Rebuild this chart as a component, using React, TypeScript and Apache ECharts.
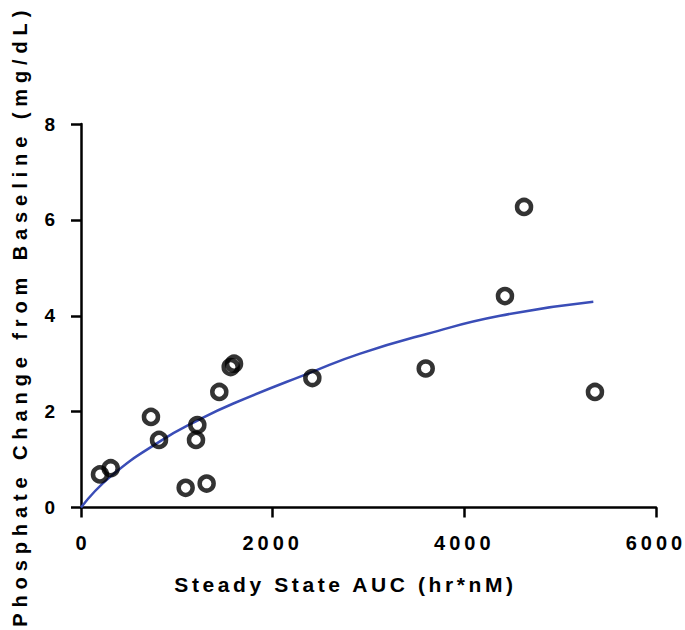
import React, { useEffect, useRef } from "react";
import * as echarts from "echarts";

// Observed data points (Steady State AUC, Phosphate change)
const aucValues = [198, 310, 730, 814, 1092, 1311, 1214, 1200, 1443, 1562, 1597, 2414, 3597, 4424, 4623, 5363];
const phosValues = [0.69, 0.82, 1.89, 1.41, 0.41, 0.5, 1.72, 1.41, 2.41, 2.93, 3.0, 2.7, 2.9, 4.41, 6.27, 2.41];

// Fitted curve
const fitX = [0, 310, 824, 1240, 1590, 2414, 2913, 3607, 4373, 5346];
const fitY = [0, 0.65, 1.38, 1.84, 2.17, 2.83, 3.21, 3.62, 4.0, 4.29];

const xTicks = [0, 2000, 4000, 6000];
const yTicks = [0, 2, 4, 6, 8];

const X_NAME = "Steady State AUC (hr*nM)";
const Y_NAME = "Phosphate Change from Baseline (mg/dL)";

const FONT = "'Liberation Sans', Arial, Helvetica, sans-serif";

function applySpacing(root: HTMLElement) {
  root.querySelectorAll("text").forEach((t) => {
    const s = t.textContent || "";
    if (s === Y_NAME) t.setAttribute("letter-spacing", "5.9");
    else if (s === X_NAME) t.setAttribute("letter-spacing", "3.6");
    else if (s.length > 1) t.setAttribute("letter-spacing", "4");
  });
}

export default function App() {
  const ref = useRef<HTMLDivElement>(null);
  useEffect(() => {
    if (!ref.current) return;
    const chart = echarts.init(ref.current, undefined, { renderer: "svg" });
    const scatterData = aucValues.map((x, i) => [x, phosValues[i]]);
    const fitData = fitX.map((x, i) => [x, fitY[i]]);
    const axisLine = { show: true, lineStyle: { color: "#000", width: 2.5 } };
    const axisTick = { show: true, inside: false, length: 10, lineStyle: { color: "#000", width: 2.5 } };
    chart.setOption({
      animation: false,
      backgroundColor: "#fff",
      grid: {
        left: 81,
        right: 29,
        top: 124,
        bottom: 122.5,
        containLabel: false,
        outerBoundsMode: "none",
      },
      xAxis: {
        type: "value",
        min: xTicks[0],
        max: xTicks[xTicks.length - 1],
        interval: 2000,
        name: X_NAME,
        nameLocation: "middle",
        nameGap: 66,
        nameMoveOverlap: false,
        nameTextStyle: {
          fontFamily: FONT,
          fontWeight: "bold",
          fontSize: 21,
          color: "#000",
          padding: [0, 46, 0, 0],
        },
        axisLine,
        axisTick,
        splitLine: { show: false },
        axisLabel: {
          fontFamily: FONT,
          fontWeight: "bold",
          fontSize: 20,
          color: "#000",
          margin: 25,
          formatter: (v: number) => String(v),
        },
      },
      yAxis: {
        type: "value",
        min: yTicks[0],
        max: yTicks[yTicks.length - 1],
        interval: 2,
        name: Y_NAME,
        nameLocation: "middle",
        nameGap: 51,
        nameMoveOverlap: false,
        nameTextStyle: { fontFamily: FONT, fontWeight: "bold", fontSize: 20, color: "#000" },
        axisLine,
        axisTick,
        splitLine: { show: false },
        axisLabel: {
          fontFamily: FONT,
          fontWeight: "bold",
          fontSize: 19,
          color: "#000",
          margin: 4,
          align: "right",
          padding: [0, 22, 0, 0],
          formatter: (v: number) => String(v),
        },
      },
      series: [
        {
          type: "line",
          data: fitData,
          smooth: true,
          showSymbol: false,
          symbol: "none",
          lineStyle: { color: "#3A4DB7", width: 2.5 },
          z: 2,
        },
        {
          type: "scatter",
          data: scatterData,
          symbol: "circle",
          symbolSize: 14,
          itemStyle: { color: "transparent", borderColor: "#000", borderWidth: 4.5 },
          z: 3,
        },
      ],
    });
    applySpacing(ref.current);
    chart.on("finished", () => ref.current && applySpacing(ref.current));
    return () => chart.dispose();
  }, []);
  return <div ref={ref} style={{ position: "absolute", left: 0, top: 0, width: 685, height: 630 }} />;
}
